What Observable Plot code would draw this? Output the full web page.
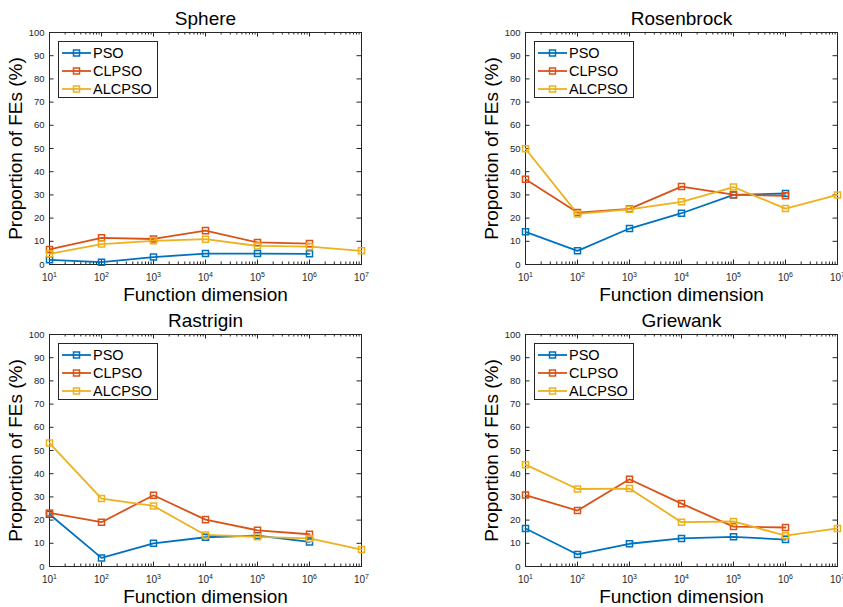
<!DOCTYPE html>
<html><head><meta charset="utf-8">
<script src="https://cdn.jsdelivr.net/npm/d3@7"></script>
<script src="https://cdn.jsdelivr.net/npm/@observablehq/plot@0.6"></script>
<style>
html,body{margin:0;padding:0;background:#fff}
body{width:843px;height:607px;overflow:hidden;position:relative;font-family:"Liberation Sans",Arial,Helvetica,sans-serif}
.panel{position:absolute}
.panel svg{overflow:visible;display:block}
.legend{position:absolute;background:#fff;border:1px solid #262626;box-sizing:border-box;width:100px;height:57px;padding-top:2px}
.legend .row{height:18px;display:flex;align-items:center;font-size:14.5px;color:#000;white-space:nowrap}
.legend svg{margin-left:2px;margin-right:2px}
</style></head><body>
<script>
// ---- data ----
const dims = [10, 100, 1e3, 1e4, 1e5, 1e6, 1e7];
const dimExponents = ["1", "2", "3", "4", "5", "6", "7"];
const methods = ["PSO", "CLPSO", "ALCPSO"];
const methodColors = ["#0072BD", "#D95319", "#EDB120"];
const titles = ["Sphere", "Rosenbrock", "Rastrigin", "Griewank"];
const yTicks = [0, 10, 20, 30, 40, 50, 60, 70, 80, 90, 100];
const xLabel = "Function dimension";
const yLabel = "Proportion of FEs (%)";

const spherePSO    = [2.0, 1.0, 3.2, 4.7, 4.7, 4.6];
const sphereCLPSO  = [6.5, 11.5, 11.0, 14.6, 9.5, 9.0];
const sphereALCPSO = [4.6, 8.8, 10.2, 10.9, 8.0, 7.7, 5.9];

const rosenPSO    = [14.1, 5.9, 15.5, 22.1, 30.0, 30.6];
const rosenCLPSO  = [36.7, 22.4, 24.0, 33.6, 30.1, 29.6];
const rosenALCPSO = [49.9, 21.8, 23.8, 27.0, 33.4, 24.1, 30.0];

const rastPSO    = [22.5, 3.7, 10.0, 12.6, 13.3, 10.6];
const rastCLPSO  = [23.1, 19.1, 30.7, 20.2, 15.6, 13.9];
const rastALCPSO = [53.2, 29.3, 26.1, 13.6, 12.8, 12.1, 7.3];

const griePSO    = [16.4, 5.2, 9.8, 12.1, 12.8, 11.6];
const grieCLPSO  = [30.8, 24.1, 37.6, 27.1, 17.2, 16.8];
const grieALCPSO = [43.9, 33.4, 33.6, 19.1, 19.4, 13.3, 16.4];

const panelSeries = [
  [spherePSO, sphereCLPSO, sphereALCPSO],
  [rosenPSO, rosenCLPSO, rosenALCPSO],
  [rastPSO, rastCLPSO, rastALCPSO],
  [griePSO, grieCLPSO, grieALCPSO]
];

// ---- layout ----
const layouts = [
  {left: 0,   top: 0,   width: 421, height: 300, mL: 49,  mR: 60, mT: 32, mB: 36},
  {left: 421, top: 0,   width: 422, height: 300, mL: 104, mR: 6,  mT: 32, mB: 36},
  {left: 0,   top: 300, width: 421, height: 307, mL: 49,  mR: 60, mT: 34, mB: 41},
  {left: 421, top: 300, width: 422, height: 307, mL: 104, mR: 6,  mT: 34, mB: 41}
];

const minorX = [];
for (let k = 1; k < 7; k++) for (let m = 2; m <= 9; m++) minorX.push(m * Math.pow(10, k));

const axisColor = "#262626";
const font = "'Liberation Sans', Arial, Helvetica, sans-serif";

titles.forEach((title, i) => {
  const L = layouts[i];
  const pw = L.width - L.mL - L.mR;
  const ph = L.height - L.mT - L.mB;
  const rows = [];
  panelSeries[i].forEach((vals, s) => {
    vals.forEach((v, j) => rows.push({dim: dims[j], value: v, method: methods[s]}));
  });
  const chart = Plot.plot({
    width: L.width, height: L.height,
    marginLeft: L.mL, marginRight: L.mR, marginTop: L.mT, marginBottom: L.mB,
    style: {fontFamily: font, background: "transparent", overflow: "visible"},
    x: {type: "log", domain: [10, 1e7], axis: null},
    y: {domain: [0, 100], axis: null},
    color: {domain: methods, range: methodColors},
    marks: [
      Plot.frame({stroke: axisColor, strokeWidth: 1}),
      Plot.tickX(dims, {x: d => d, insetTop: ph - 4.5, stroke: axisColor}),
      Plot.tickX(dims, {x: d => d, insetBottom: ph - 4.5, stroke: axisColor}),
      Plot.tickX(minorX, {x: d => d, insetTop: ph - 2.5, stroke: axisColor}),
      Plot.tickX(minorX, {x: d => d, insetBottom: ph - 2.5, stroke: axisColor}),
      Plot.tickY(yTicks, {y: d => d, insetRight: pw - 4.5, stroke: axisColor}),
      Plot.tickY(yTicks, {y: d => d, insetLeft: pw - 4.5, stroke: axisColor}),
      Plot.axisX(dims, {tickSize: 0, tickPadding: 9, fontSize: 10, fill: axisColor,
        tickFormat: d => "10^" + dimExponents[dims.indexOf(d)], label: null}),
      Plot.axisY(yTicks, {tickSize: 0, tickPadding: 5, fontSize: 9.5, fill: axisColor, label: null}),
      Plot.line(rows, {x: "dim", y: "value", z: "method", stroke: "method", strokeWidth: 1.8}),
      Plot.dot(rows, {x: "dim", y: "value", stroke: "method", symbol: "square", r: 3.4, strokeWidth: 1.5, fill: "none"}),
      Plot.text([title], {frameAnchor: "top", lineAnchor: "middle", dy: -14, fontSize: 19, fill: "#000", text: d => d}),
      Plot.text([xLabel], {frameAnchor: "bottom", lineAnchor: "middle", dy: 30, fontSize: 19, fill: "#000", text: d => d}),
      Plot.text([yLabel], {frameAnchor: "left", textAnchor: "middle", lineAnchor: "middle", dx: -34, rotate: -90, fontSize: 19, fill: "#000", text: d => d})
    ]
  });
  // render exponents as superscripts
  chart.querySelectorAll('g[aria-label="x-axis tick label"] text').forEach(t => {
    const s = t.textContent;
    if (s.indexOf("^") < 0) return;
    const [base, exp] = s.split("^");
    t.textContent = "";
    const ns = "http://www.w3.org/2000/svg";
    const b = document.createElementNS(ns, "tspan");
    b.textContent = base;
    const e = document.createElementNS(ns, "tspan");
    e.textContent = exp;
    e.setAttribute("dy", "-4");
    e.setAttribute("font-size", "7");
    t.appendChild(b);
    t.appendChild(e);
  });
  const div = document.createElement("div");
  div.className = "panel";
  div.style.left = L.left + "px";
  div.style.top = L.top + "px";
  div.appendChild(chart);
  // legend
  const lg = document.createElement("div");
  lg.className = "legend";
  lg.style.left = (L.mL + 9) + "px";
  lg.style.top = (L.mT + 9) + "px";
  methods.forEach((m, s) => {
    const row = document.createElement("div");
    row.className = "row";
    row.innerHTML = `<svg width="30" height="12"><line x1="1" y1="6" x2="30" y2="6" stroke="${methodColors[s]}" stroke-width="1.8"/><rect x="12.5" y="3" width="6" height="6" fill="none" stroke="${methodColors[s]}" stroke-width="1.5"/></svg><span>${m}</span>`;
    lg.appendChild(row);
  });
  div.appendChild(lg);
  document.body.appendChild(div);
});
</script>
</body></html>
